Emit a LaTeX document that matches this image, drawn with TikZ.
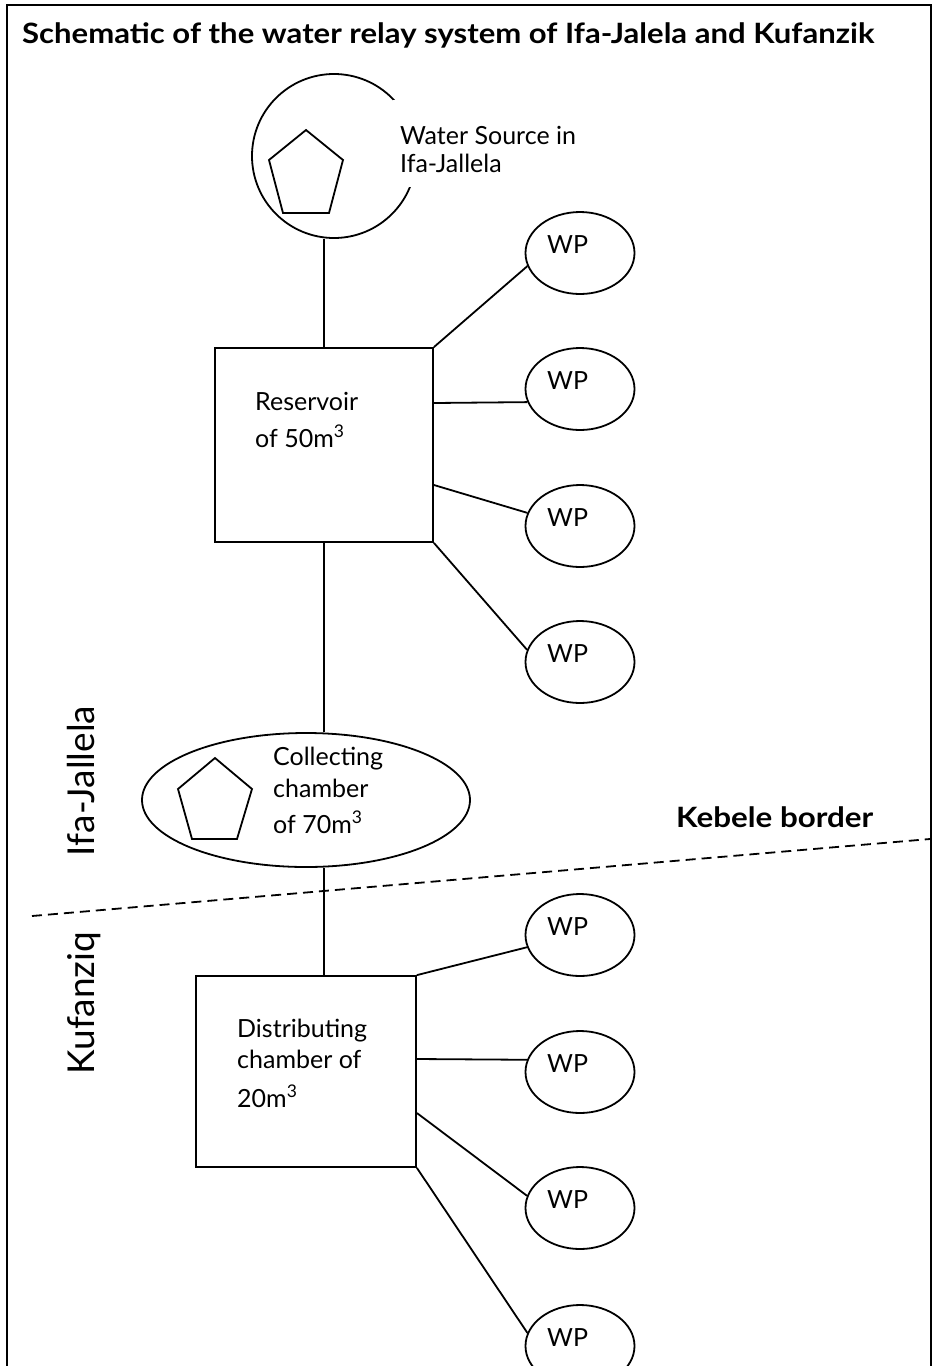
\documentclass[tikz,border=0pt]{standalone}
\usepackage{fontspec}
\setmainfont{Lato}
\usetikzlibrary{shapes.geometric}
\begin{document}
\begin{tikzpicture}[x=1pt,y=-1pt,
  line/.style={line width=1.8pt},
  wp/.style={draw, ellipse, line width=1.8pt, minimum width=109pt, minimum height=82pt, inner sep=0pt},
  lbl/.style={anchor=base west, inner sep=0pt, font=\fontsize{25}{30}\selectfont},
  boxnode/.style={draw, line width=1.8pt, rectangle, inner sep=0pt},
  bigbold/.style={anchor=base west, inner sep=0pt, font=\bfseries\fontsize{28}{32}\selectfont},
  side/.style={rotate=90, anchor=base, inner sep=0pt, font=\fontsize{37}{40}\selectfont}
]
\useasboundingbox (0,0) rectangle (935,1366);
\clip (0,0) rectangle (935,1366);
% frame
\draw[line width=2pt] (7,1400) -- (7,5) -- (931,5) -- (931,1400);
% title
\node[bigbold] (title) at (22,43) {\scalebox{1.11}[1]{Schematic of the water relay system of Ifa-Jalela and Kufanzik}};

% water source
\node[draw, circle, minimum size=164pt, line width=1.8pt, inner sep=0pt] (src) at (334,156) {};
\draw[line] (306,130) -- (343,160) -- (329,213) -- (283,213) -- (269,160) -- cycle;
\fill[white] (393,100) rectangle (600,187);
\node[lbl] (srct1) at (400,144) {Water Source in};
\node[lbl] (srct2) at (400,172) {Ifa-Jallela};

% reservoir
\node[boxnode, minimum width=218pt, minimum height=194pt] (res) at (324,445) {};
\node[lbl] (rest1) at (255,410) {Reservoir};
\node[lbl] (rest2) at (255,447) {of 50m\textsuperscript{3}};

% collecting chamber
\node[draw, ellipse, minimum width=328pt, minimum height=134pt, line width=1.8pt, inner sep=0pt] (coll) at (306,800) {};
\draw[line] (215,758) -- (252,789) -- (237,839) -- (192,839) -- (178,789) -- cycle;
\node[lbl] (collt1) at (273,765) {Collecting};
\node[lbl] (collt2) at (273,797) {chamber};
\node[lbl] (collt3) at (273,833) {of 70m\textsuperscript{3}};

% distributing chamber
\node[boxnode, minimum width=220pt, minimum height=191pt] (dist) at (306,1071.5) {};
\node[lbl] (distt1) at (237,1037) {Distributing};
\node[lbl] (distt2) at (237,1068) {chamber of};
\node[lbl] (distt3) at (237,1107) {20m\textsuperscript{3}};

% water points
\foreach \n/\y in {1/253,2/389,3/526,4/662,5/935,6/1072,7/1208,8/1346}{
  \node[wp] (wp\n) at (580,\y) {};
  \node[lbl] (wp\n t) at (547,\y) {WP};
}

% trunk connectors
\draw[line] (res.north) -- (res.north |- src.south);
\draw[line] (res.south) -- (res.south |- coll.north);
\draw[line] (res.south |- coll.south) -- (res.south |- dist.north);

% reservoir branches
\draw[line] (res.north east) -- (wp1.194);
\draw[line] ([yshift=42pt]res.east) -- (wp2.194);
\draw[line] ([yshift=-40pt]res.east) -- (wp3.166);
\draw[line] (res.south east) -- (wp4.167);

% distributing branches
\draw[line] (dist.north east) -- (wp5.193);
\draw[line] ([yshift=12.5pt]dist.east) -- (wp6.167);
\draw[line] ([yshift=-41.5pt]dist.east) -- (wp7.167);
\draw[line] (dist.south east) -- (wp8.166);

% kebele border
\coordinate (bl) at (32,916);
\coordinate (br) at (930,839);
\draw[line, dash pattern=on 10pt off 6pt] (bl) -- (br);
\node[bigbold] (kb) at (676,827) {\scalebox{1.12}[1]{Kebele border}};

% side labels
\node[side] (ifa) at (94,781) {Ifa-Jallela};
\node[side] (kuf) at (94,1003) {Kufanziq};
\end{tikzpicture}
\end{document}
